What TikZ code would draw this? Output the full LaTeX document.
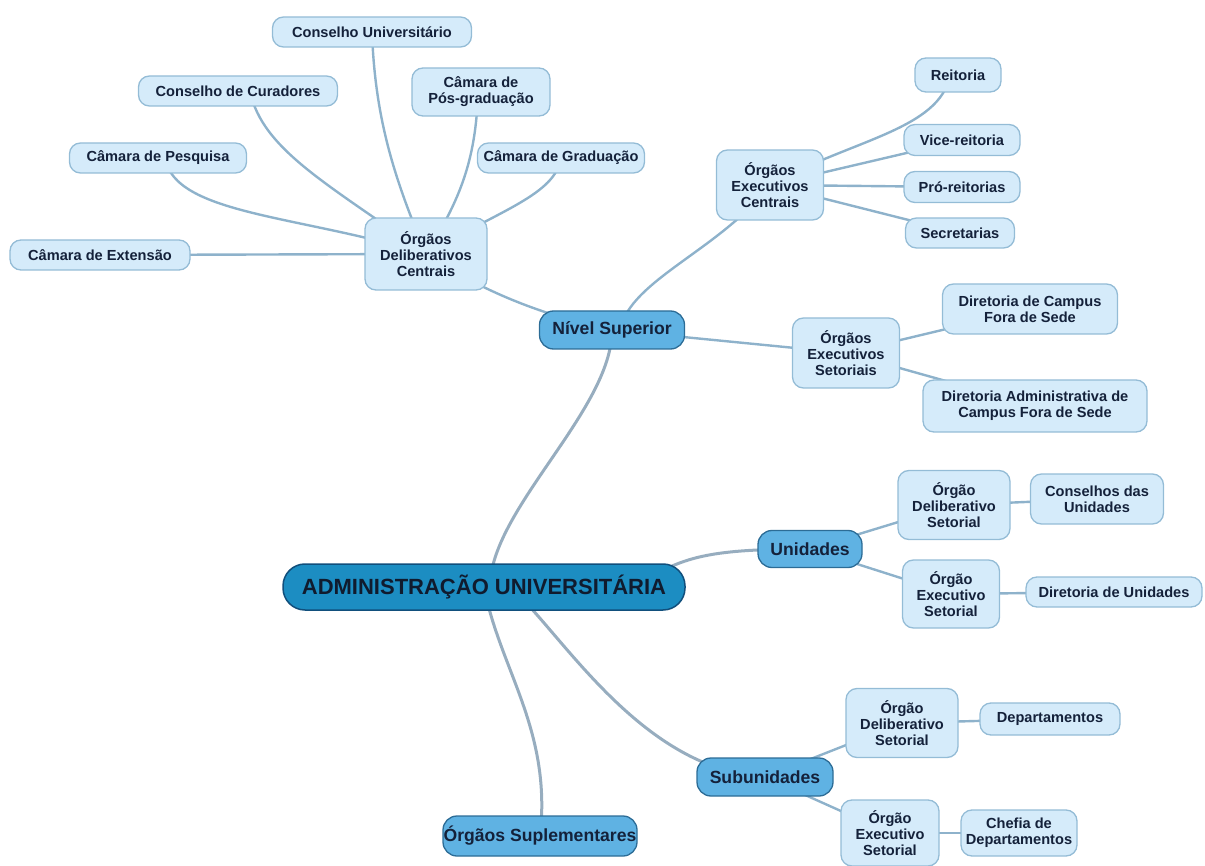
\documentclass[tikz,border=0pt]{standalone}
\usepackage{fontspec}
\setmainfont{Liberation Sans}
\usetikzlibrary{backgrounds}
\definecolor{leaff}{HTML}{D5EBFA}
\definecolor{leafb}{HTML}{94BCD6}
\definecolor{lonef}{HTML}{5FB2E3}
\definecolor{loneb}{HTML}{2C6C96}
\definecolor{rootf}{HTML}{1C8DC2}
\definecolor{rootb}{HTML}{114F7C}
\definecolor{edgec}{HTML}{8EB2CB}
\definecolor{edger}{HTML}{97ADBF}
\definecolor{txt}{HTML}{14213A}
\tikzset{
  leaf/.style={draw=leafb, fill=leaff, rounded corners=11pt, line width=1.3pt, align=center,
    text=txt, inner sep=0pt, font=\bfseries\fontsize{14.6}{15.8}\selectfont},
  lone/.style={draw=loneb, fill=lonef, rounded corners=14pt, line width=1.3pt, align=center,
    text=txt, inner sep=0pt, font=\bfseries\fontsize{17.6}{19}\selectfont},
  rootn/.style={draw=rootb, fill=rootf, rounded corners=22pt, line width=1.5pt, align=center,
    text=txt!80!black, inner sep=0pt, font=\bfseries\fontsize{22}{24}\selectfont},
  sz/.style 2 args={minimum width=#1, minimum height=#2},
  ebig/.style={draw=edger, line width=3pt},
  esm/.style={draw=edgec, line width=2.4pt},
}
\begin{document}
\begin{tikzpicture}[x=1pt,y=-1pt]
\useasboundingbox (0,0) rectangle (1205,866);
% root and first level
\node[rootn, sz={402pt}{46pt}] (root) at (484,587) {ADMINISTRAÇÃO UNIVERSITÁRIA};
\node[lone, sz={145pt}{38pt}] (ns) at (612,330) {Nível Superior};
\node[lone, sz={104pt}{37pt}] (un) at (810,549) {Unidades};
\node[lone, sz={136pt}{38pt}] (sub) at (765,777) {Subunidades};
\node[lone, sz={194pt}{40pt}] (supl) at (540,836) {Órgãos Suplementares};
% deliberativos centrais
\node[leaf, sz={122pt}{72pt}] (odc) at (426,254) {Órgãos\\Deliberativos\\Centrais};
\node[leaf, sz={180pt}{30pt}] (ce) at (100,255) {Câmara de Extensão};
\node[leaf, sz={177pt}{30pt}] (cp) at (158,158) {Câmara de Pesquisa};
\node[leaf, sz={199pt}{30pt}] (cc) at (238,91) {Conselho de Curadores};
\node[leaf, sz={199pt}{30pt}] (cu) at (372,32) {Conselho Universitário};
\node[leaf, sz={138pt}{48pt}] (cpg) at (481,92) {Câmara de\\Pós-graduação};
\node[leaf, sz={167pt}{30pt}] (cg) at (561,158) {Câmara de Graduação};
% executivos centrais
\node[leaf, sz={107pt}{70pt}] (oec) at (770,185) {Órgãos\\Executivos\\Centrais};
\node[leaf, sz={86pt}{34pt}] (rei) at (958,75) {Reitoria};
\node[leaf, sz={116pt}{31pt}] (vice) at (962,140) {Vice-reitoria};
\node[leaf, sz={116pt}{31pt}] (pro) at (962,187) {Pró-reitorias};
\node[leaf, sz={109pt}{30pt}] (sec) at (960,233) {Secretarias};
% executivos setoriais
\node[leaf, sz={107pt}{70pt}] (oes) at (846,353) {Órgãos\\Executivos\\Setoriais};
\node[leaf, sz={175pt}{50pt}] (dcfs) at (1030,309) {Diretoria de Campus\\Fora de Sede};
\node[leaf, sz={224pt}{52pt}] (dac) at (1035,406) {Diretoria Administrativa de\\Campus Fora de Sede};
% unidades
\node[leaf, sz={112pt}{69pt}] (odsu) at (954,505) {Órgão\\Deliberativo\\Setorial};
\node[leaf, sz={133pt}{50pt}] (cdu) at (1097,499) {Conselhos das\\Unidades};
\node[leaf, sz={97pt}{68pt}] (oesu) at (951,594) {Órgão\\Executivo\\Setorial};
\node[leaf, sz={176pt}{30pt}] (ddu) at (1114,592) {Diretoria de Unidades};
% subunidades
\node[leaf, sz={112pt}{69pt}] (odss) at (902,723) {Órgão\\Deliberativo\\Setorial};
\node[leaf, sz={140pt}{32pt}] (dep) at (1050,719) {Departamentos};
\node[leaf, sz={98pt}{66pt}] (oess) at (890,833) {Órgão\\Executivo\\Setorial};
\node[leaf, sz={116pt}{46pt}] (chef) at (1019,833) {Chefia de\\Departamentos};

\begin{scope}[on background layer]
% root edges
\draw[ebig] ([xshift=6pt]root.center) .. controls (490,510) and (612,410) .. (ns.center);
\draw[ebig] ([xshift=170pt,yshift=12pt]root.center) .. controls (690,555) and (720,549) .. (un.center);
\draw[ebig] ([xshift=26pt]root.center) .. controls (560,630) and (640,770) .. (sub.center);
\draw[ebig] (root.center) .. controls (500,670) and (552,730) .. (supl.center);
% nivel superior
\draw[esm] (ns.center) .. controls (540,315) and (480,290) .. (odc.center);
\draw[esm] ([xshift=8pt]ns.center) .. controls (630,280) and (720,250) .. (oec.center);
\draw[esm] (ns.center) -- (oes.center);
% deliberativos centrais
\draw[esm] (odc.center) -- (ce.center);
\draw[esm] ([xshift=7pt]cp.center) .. controls (175,215) and (300,215) .. (odc.center);
\draw[esm] ([xshift=12pt]cc.center) .. controls (262,150) and (330,185) .. (odc.center);
\draw[esm] (cu.center) .. controls (375,120) and (395,180) .. (odc.center);
\draw[esm] ([xshift=-3pt]cpg.center) .. controls (476,160) and (460,200) .. (odc.center);
\draw[esm] (cg.center) .. controls (555,195) and (500,210) .. (odc.center);
% executivos centrais
\draw[esm] (oec.center) .. controls (850,140) and (940,130) .. ([xshift=-8pt]rei.center);
\draw[esm] (oec.center) -- (vice.center);
\draw[esm] (oec.center) -- (pro.center);
\draw[esm] (oec.center) -- (sec.center);
% executivos setoriais
\draw[esm] (oes.center) -- (dcfs.center);
\draw[esm] (oes.center) -- (dac.center);
% unidades
\draw[esm] (un.center) -- (odsu.center);
\draw[esm] (un.center) -- (oesu.center);
\draw[esm] (odsu.center) -- (cdu.center);
\draw[esm] (oesu.center) -- (ddu.center);
% subunidades
\draw[esm] (sub.center) -- (odss.center);
\draw[esm] (sub.center) -- (oess.center);
\draw[esm] (odss.center) -- (dep.center);
\draw[esm] (oess.center) -- (chef.center);
\end{scope}
\end{tikzpicture}
\end{document}
